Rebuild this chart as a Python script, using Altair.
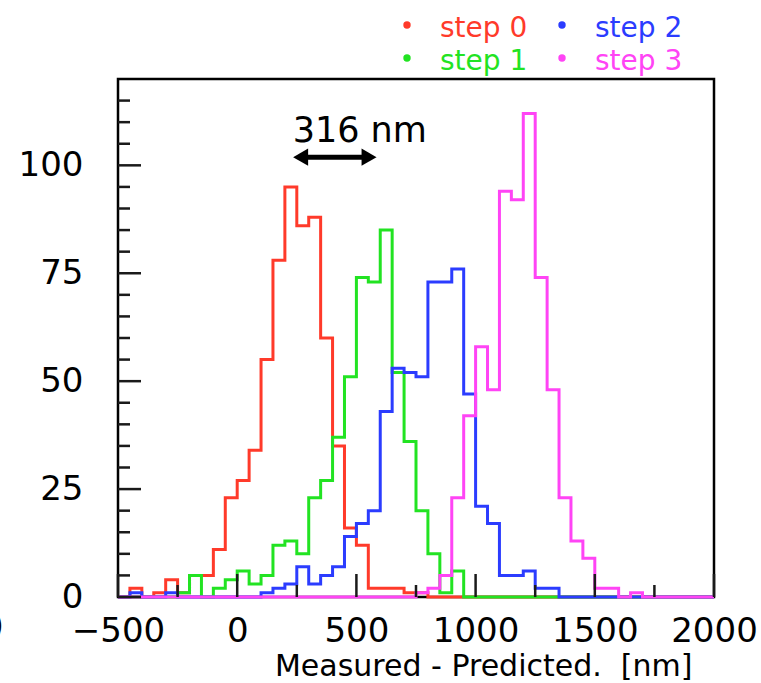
import altair as alt
import pandas as pd

# ---------------- data (counts per 50 nm bin, left edges -500 ... 1950) ----------------
bin_start = -500
bin_width = 50
bin_end = 2000

steps = ["step 0", "step 1", "step 2", "step 3"]
colors = ["#ff3a2a", "#22e322", "#2b3cff", "#ff44f5"]

step0 = [0, 2, 0, 1, 4, 1, 5, 5, 11, 23,
         27, 34, 55, 78, 95, 86, 88, 60, 35, 16,
         12, 2, 2, 2, 1, 1, 0, 0, 0, 0,
         0, 0, 0, 0, 0, 0, 0, 0, 0, 0,
         0, 0, 0, 0, 0, 0, 0, 0, 0, 0]
step1 = [0, 0, 0, 0, 0, 1, 5, 0, 2, 4,
         6, 3, 5, 12, 13, 10, 23, 27, 37, 51,
         74, 73, 85, 52, 36, 20, 10, 1, 6, 0,
         0, 0, 0, 0, 0, 0, 0, 0, 0, 0,
         0, 0, 0, 0, 0, 0, 0, 0, 0, 0]
step2 = [0, 1, 0, 0, 1, 0, 0, 0, 0, 0,
         0, 0, 1, 2, 3, 7, 3, 5, 7, 14,
         17, 20, 43, 53, 52, 51, 73, 73, 76, 47,
         21, 17, 5, 5, 6, 2, 2, 0, 0, 0,
         0, 0, 0, 0, 0, 0, 0, 0, 0, 0]
step3 = [0, 0, 0, 0, 0, 0, 0, 0, 0, 0,
         0, 0, 0, 0, 0, 0, 0, 0, 0, 0,
         0, 0, 0, 0, 0, 1, 2, 5, 23, 42,
         58, 48, 94, 92, 112, 74, 48, 23, 13, 9,
         2, 2, 0, 1, 0, 0, 0, 0, 0, 0]
series = [step0, step1, step2, step3]

xtick_major = [-500, 0, 500, 1000, 1500, 2000]
xtick_minor = [-250, 250, 750, 1250, 1750]
ytick_major = [0, 25, 50, 75, 100]
ytick_minor = [5, 10, 15, 20, 30, 35, 40, 45, 55, 60, 65, 70, 80, 85, 90, 95, 105, 110, 115]

x_title = "Measured - Predicted.\u00a0\u00a0[nm]"
annot_text = "316 nm"
annot_text_pos = [514, 105.4]
arrow_heads_x = [266, 553]
arrow_y = 101.9

# ---------------- build table ----------------
rows = []
for name, counts in zip(steps, series):
    for i, c in enumerate(counts):
        rows.append({"step": name, "edge": bin_start + i * bin_width, "count": c})
    rows.append({"step": name, "edge": bin_end, "count": counts[-1]})
df = pd.DataFrame(rows)

FONT = "DejaVu Sans"
W, H = 596, 518
xs = alt.Scale(domain=[-500, 2000], nice=False, zero=False)
ys = alt.Scale(domain=[0, 120], nice=False, zero=True)

x_axis = alt.Axis(values=xtick_major, format="d", ticks=False, domain=False, grid=False,
                  labelFont=FONT, labelFontSize=34, labelColor="black",
                  labelPadding=17, labelFlush=False,
                  title=x_title, titleFont=FONT, titleFontSize=30,
                  titleFontWeight="normal", titleColor="black",
                  titleAlign="right", titleX=574, titleY=78,
                  titleBaseline="alphabetic")
y_axis = alt.Axis(values=ytick_major, format="d", ticks=False, domain=False, grid=False,
                  labelFont=FONT, labelFontSize=34, labelColor="black",
                  labelPadding=35, title=None)

lines = alt.Chart(df).mark_line(interpolate="step-after", strokeWidth=3).encode(
    x=alt.X("edge:Q", scale=xs, axis=x_axis),
    y=alt.Y("count:Q", scale=ys, axis=y_axis),
    color=alt.Color("step:N", scale=alt.Scale(domain=steps, range=colors), legend=None),
    order=alt.Order("edge:Q"),
)

tick_color = "#1a1a1a"
ymaj = alt.Chart(pd.DataFrame({"v": ytick_major})).mark_rule(color=tick_color, strokeWidth=2.5).encode(
    y=alt.Y("v:Q", scale=ys, axis=y_axis), x=alt.value(0), x2=alt.value(23))
ymin = alt.Chart(pd.DataFrame({"v": ytick_minor})).mark_rule(color=tick_color, strokeWidth=2.5).encode(
    y=alt.Y("v:Q", scale=ys, axis=y_axis), x=alt.value(0), x2=alt.value(12))
xmaj = alt.Chart(pd.DataFrame({"v": xtick_major})).mark_rule(color=tick_color, strokeWidth=2.5).encode(
    x=alt.X("v:Q", scale=xs, axis=x_axis), y=alt.value(H), y2=alt.value(H - 23))
xmin = alt.Chart(pd.DataFrame({"v": xtick_minor})).mark_rule(color=tick_color, strokeWidth=2.5).encode(
    x=alt.X("v:Q", scale=xs, axis=x_axis), y=alt.value(H), y2=alt.value(H - 12))

ann_df = pd.DataFrame({"x": [annot_text_pos[0]], "y": [annot_text_pos[1]], "t": [annot_text]})
ann = alt.Chart(ann_df).mark_text(font=FONT, fontSize=35, align="center", baseline="alphabetic",
                                  color="black").encode(
    x=alt.X("x:Q", scale=xs, axis=x_axis), y=alt.Y("y:Q", scale=ys, axis=y_axis), text="t:N")

arrow_df = pd.DataFrame({"x1": [arrow_heads_x[0]], "x2": [arrow_heads_x[1]], "y": [arrow_y]})
arrow_line = alt.Chart(arrow_df).mark_rule(color="black", strokeWidth=5).encode(
    x=alt.X("x1:Q", scale=xs, axis=x_axis), x2="x2:Q", y=alt.Y("y:Q", scale=ys, axis=y_axis))
head_l = alt.Chart(arrow_df).mark_point(shape="triangle-left", size=300, filled=True,
                                        color="black", opacity=1).encode(
    x=alt.X("x1:Q", scale=xs, axis=x_axis), y=alt.Y("y:Q", scale=ys, axis=y_axis))
head_r = alt.Chart(arrow_df).mark_point(shape="triangle-right", size=300, filled=True,
                                        color="black", opacity=1).encode(
    x=alt.X("x2:Q", scale=xs, axis=x_axis), y=alt.Y("y:Q", scale=ys, axis=y_axis))

# ---------------- manual legend (pixel positions relative to plot origin) ----------------
one = pd.DataFrame({"a": [0]})
legend_layers = []
leg_pos = [(289, -54), (289, -21), (444, -54), (444, -21)]
for (lx, ly), name, col in zip(leg_pos, steps, colors):
    legend_layers.append(alt.Chart(one).mark_point(shape="circle", size=55, filled=True,
                                                   color=col, opacity=1).encode(
        x=alt.value(lx), y=alt.value(ly)))
    legend_layers.append(alt.Chart(one).mark_text(text=name, font=FONT, fontSize=28, align="left",
                                                  baseline="alphabetic", color=col).encode(
        x=alt.value(lx + 33), y=alt.value(ly + 12)))

paren = alt.Chart(one).mark_text(text=")", font=FONT, fontSize=34, align="right",
                                 baseline="middle", color="black").encode(
    x=alt.value(-114), y=alt.value(548))

chart = alt.layer(lines, ymaj, ymin, xmaj, xmin, ann, arrow_line, head_l, head_r, paren,
                  *legend_layers).properties(
    width=W, height=H,
    padding={"left": 118, "top": 79, "right": 47, "bottom": 86},
    autosize=alt.AutoSizeParams(type="none"),
    background="white",
).configure_view(stroke="black", strokeWidth=2.5)

chart.save("out.html", embed_options={"renderer": "svg", "actions": False})
